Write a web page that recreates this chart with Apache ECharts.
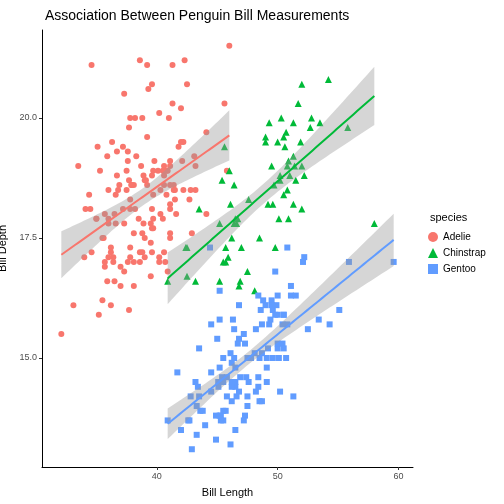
<!DOCTYPE html>
<html><head><meta charset="utf-8">
<script src="https://cdn.jsdelivr.net/npm/echarts@6/dist/echarts.min.js"></script>
<style>html,body{margin:0;padding:0;background:#fff}#c{width:504px;height:504px}</style>
</head><body><div id="c"></div>
<script>
var speciesNames = ['Adelie', 'Chinstrap', 'Gentoo'];
var speciesColors = ['#F8766D', '#00BA38', '#619CFF'];
var speciesSymbols = ['circle', 'triangle', 'rect'];
var xTicks = [40, 50, 60];
var yTicks = [15, 17.5, 20];

var adelie = [[39.1,18.7],[39.5,17.4],[40.3,18],[36.7,19.3],[39.3,20.6],[38.9,17.8],[39.2,19.6],[34.1,18.1],[42,20.2],[37.8,17.1],[37.8,17.3],[41.1,17.6],[38.6,21.2],[34.6,21.1],[36.6,17.8],[38.7,19],[42.5,20.7],[34.4,18.4],[46,21.5],[37.8,18.3],[37.7,18.7],[35.9,19.2],[38.2,18.1],[38.8,17.2],[35.3,18.9],[40.6,18.6],[40.5,17.9],[37.9,18.6],[40.5,18.9],[39.5,16.7],[37.2,18.1],[39.5,17.8],[40.9,18.9],[36.4,17],[39.2,21.1],[38.8,20],[42.2,18.5],[37.6,19.3],[39.8,19.1],[36.5,18],[40.8,18.4],[36,18.5],[44.1,19.7],[37,16.9],[39.6,18.8],[41.1,19],[37.5,18.9],[36,17.9],[42.3,21.2],[39.6,17.7],[40.1,18.9],[35,17.9],[42,19.5],[34.5,18.1],[41.4,18.6],[39,17.5],[40.6,18.8],[36.5,16.6],[37.6,19.1],[35.7,16.9],[41.3,21.1],[37.6,17],[41.1,18.2],[36.4,17.1],[41.6,18],[35.5,16.2],[41.1,19.1],[35.9,16.6],[41.8,19.4],[33.5,19],[39.7,18.4],[39.6,17.2],[45.8,18.9],[35.5,17.5],[42.8,18.5],[40.9,16.8],[37.2,19.4],[36.2,16.1],[42.1,19.1],[34.6,17.2],[42.9,17.6],[36.7,18.8],[35.1,19.4],[37.3,17.8],[41.3,20.3],[36.3,19.5],[36.9,18.6],[38.3,19.2],[38.9,18.8],[35.7,18],[41.1,18.1],[34,17.1],[39.6,18.1],[36.2,17.3],[40.8,18.9],[38.1,18.6],[40.3,18.5],[33.1,16.1],[43.2,18.5],[35,17.9],[41,20],[37.7,16],[37.8,20],[37.9,18.6],[39.7,18.9],[38.6,17.2],[38.2,20],[38.1,17],[43.2,19],[38.1,16.5],[45.6,20.3],[39.7,17.7],[42.2,19.5],[39.6,20.7],[42.7,18.3],[38.6,17],[37.3,20.5],[35.7,17],[41.1,18.6],[36.2,17.2],[37.7,19.8],[40.2,17],[41.4,18.5],[35.2,15.9],[40.6,19],[38.8,17.6],[41.5,18.3],[39,17.1],[44.1,18],[38.5,17.9],[43.1,19.2],[36.8,18.5],[37.5,18.5],[38.1,17.6],[41.1,17.5],[35.6,17.5],[40.2,20.1],[37,16.5],[39.7,17.9],[40.2,17.1],[40.6,17.2],[32.1,15.5],[40.7,17],[37.3,16.8],[39,18.7],[39.2,18.6],[36.6,18.4],[36,17.8],[37.8,18.1],[36,17.1],[41.5,18.5]];
var chinstrap = [[46.5,17.9],[50,19.5],[51.3,19.2],[45.4,18.7],[52.7,19.8],[45.2,17.8],[46.1,18.2],[51.3,18.2],[46,18.9],[51.3,19.9],[46.6,17.8],[51.7,20.3],[47,17.3],[52,18.1],[45.9,17.1],[50.5,19.6],[50.3,20],[58,17.8],[46.4,18.6],[49.2,18.2],[42.4,17.3],[48.5,17.5],[43.2,16.6],[50.6,19.4],[46.7,17.9],[52,19],[50.5,18.4],[49.5,19],[46.4,17.8],[52.8,20],[40.9,16.6],[54.2,20.8],[42.5,16.7],[51,18.8],[49.7,18.6],[47.5,16.8],[47.6,18.3],[52,20.7],[46.9,16.6],[53.5,19.9],[49,19.5],[46.2,17.5],[50.9,19.1],[45.5,17],[50.9,17.9],[50.8,18.5],[50.1,17.9],[49,19.6],[51.5,18.7],[49.8,17.3],[48.1,16.4],[51.4,19],[45.7,17.3],[50.7,19.7],[42.5,17.3],[52.2,18.8],[45.2,16.6],[49.3,19.9],[50.2,18.8],[45.6,19.4],[51.9,19.5],[46.8,16.5],[45.7,17],[55.8,19.8],[43.5,18.1],[49.6,18.2],[50.8,19],[50.2,18.7]];
var gentoo = [[46.1,13.2],[50,16.3],[48.7,14.1],[50,15.2],[47.6,14.5],[46.5,13.5],[45.4,14.6],[46.7,15.3],[43.3,13.4],[46.8,15.4],[40.9,13.7],[49,16.1],[45.5,13.7],[48.4,14.6],[45.8,14.6],[49.3,15.7],[42,13.5],[49.2,15.2],[46.2,14.5],[48.7,15.1],[50.2,14.3],[45.1,14.5],[46.5,14.5],[46.3,15.8],[42.9,13.1],[46.1,15.1],[44.5,14.3],[47.8,15],[48.2,14.3],[50,15.3],[47.3,15.3],[42.8,14.2],[45.1,14.5],[59.6,17],[49.1,14.8],[48.4,16.3],[42.6,13.7],[44.4,17.3],[44,13.6],[48.7,15.7],[42.7,13.7],[49.6,16],[45.3,13.7],[49.6,15],[50.5,15.9],[43.6,13.9],[45.5,13.9],[50.5,15.9],[44.9,13.3],[45.2,15.8],[46.6,14.2],[48.5,14.1],[45.1,14.4],[50.1,15],[46.5,14.4],[45,15.4],[43.8,13.9],[45.5,15],[43.2,14.5],[50.4,15.3],[45.3,13.8],[46.2,14.9],[45.7,13.9],[54.3,15.7],[45.8,14.2],[49.8,16.8],[46.2,14.4],[49.5,16.2],[43.5,14.2],[50.7,15],[47.7,15],[46.4,15.6],[48.2,15.6],[46.5,14.8],[46.4,15],[48.6,16],[47.5,14.2],[51.1,16.3],[45.2,13.8],[45.2,16.4],[49.1,14.5],[52.5,15.6],[47.4,14.6],[50,15.9],[44.9,13.8],[50.8,17.3],[43.4,14.4],[51.3,14.2],[47.5,14],[52.1,17],[47.5,15],[52.2,17.1],[45.5,14.5],[49.5,16.1],[44.5,14.7],[50.8,15.7],[49.4,15.8],[46.9,14.6],[48.4,14.4],[51.1,16.5],[48.5,15],[55.9,17],[47.2,15.5],[49.1,15],[47.3,13.8],[46.8,16.1],[41.7,14.7],[53.4,15.8],[43.3,14],[48.1,15.1],[50.5,15.2],[49.8,15.9],[43.5,15.2],[51.5,16.3],[46.2,14.1],[55.1,16],[44.5,15.7],[48.8,16.2],[47.2,13.7],[46.8,14.3],[50.4,15.7],[45.2,14.8],[49.9,16.1]];
var groups = [adelie, chinstrap, gentoo];

// linear fit with 95% band, like geom_smooth(method = "lm")
function fit(pts) {
  var n = pts.length, mx = 0, my = 0, sxx = 0, sxy = 0, sse = 0;
  pts.forEach(function (p) { mx += p[0] / n; my += p[1] / n; });
  pts.forEach(function (p) { sxx += (p[0] - mx) * (p[0] - mx); sxy += (p[0] - mx) * (p[1] - my); });
  var b = sxy / sxx, a = my - b * mx;
  pts.forEach(function (p) { var r = p[1] - a - b * p[0]; sse += r * r; });
  var s = Math.sqrt(sse / (n - 2)), t = 1.97;
  var xs = pts.map(function (p) { return p[0]; });
  var lo = Math.min.apply(null, xs), hi = Math.max.apply(null, xs);
  var line = [], band = [];
  for (var i = 0; i <= 60; i++) {
    var x = lo + (hi - lo) * i / 60, y = a + b * x;
    var se = s * Math.sqrt(1 / n + (x - mx) * (x - mx) / sxx);
    line.push([x, y]); band.push([x, y - t * se, y + t * se]);
  }
  return {line: line, band: band};
}

var series = [];
groups.forEach(function (pts, i) {
  series.push({name: speciesNames[i], type: 'scatter', data: pts, symbol: speciesSymbols[i],
    symbolSize: i === 1 ? 7 : 6, itemStyle: {color: speciesColors[i], opacity: 1}, z: 2});
});
groups.forEach(function (pts, i) {
  var f = fit(pts);
  var band = f.band;
  series.push({type: 'custom', data: [0], silent: true, z: 3,
    renderItem: function (params, api) {
      var up = band.map(function (d) { return api.coord([d[0], d[2]]); });
      var dn = band.slice().reverse().map(function (d) { return api.coord([d[0], d[1]]); });
      return {type: 'polygon', shape: {points: up.concat(dn)}, style: {fill: 'rgba(153,153,153,0.4)'}};
    }});
  series.push({type: 'line', data: f.line, symbol: 'none', lineStyle: {color: speciesColors[i], width: 2}, silent: true, z: 4});
});

var chart = echarts.init(document.getElementById('c'));
chart.setOption({
  animation: false,
  title: {text: 'Association Between Penguin Bill Measurements', left: 40, top: 4,
    textStyle: {fontFamily: 'Liberation Sans', fontSize: 14, fontWeight: 'normal', color: '#000'}},
  legend: {orient: 'vertical', left: 428, top: 212, itemGap: 6, itemWidth: 10, itemHeight: 10,
    data: speciesNames.map(function (n, i) { return {name: n, icon: speciesSymbols[i]}; }),
    textStyle: {fontFamily: 'Liberation Sans', fontSize: 10, color: '#000'},
    padding: [20, 0, 0, 0]},
  graphic: [{type: 'text', left: 430, top: 212, style: {text: 'species', font: '11px Liberation Sans', fill: '#000'}}],
  grid: {left: 42, right: 91, top: 30, bottom: 37, outerBoundsMode: 'none', containLabel: false},
  xAxis: {type: 'value', min: 30.5, max: 61.2, name: 'Bill Length', nameLocation: 'middle', nameGap: 20,
    nameTextStyle: {fontFamily: 'Liberation Sans', fontSize: 11, color: '#000'},
    splitLine: {show: false}, axisLine: {lineStyle: {color: '#000'}},
    axisTick: {customValues: xTicks, length: 3, lineStyle: {color: '#333'}},
    axisLabel: {customValues: xTicks, color: '#4d4d4d', fontSize: 9, fontFamily: 'Liberation Sans', margin: 5}},
  yAxis: {type: 'value', min: 12.73, max: 21.83, name: 'Bill Depth', nameLocation: 'middle', nameGap: 28,
    nameTextStyle: {fontFamily: 'Liberation Sans', fontSize: 11, color: '#000'},
    splitLine: {show: false}, axisLine: {show: true, lineStyle: {color: '#000'}},
    axisTick: {show: true, customValues: yTicks, length: 3, lineStyle: {color: '#333'}},
    axisLabel: {customValues: yTicks, color: '#4d4d4d', fontSize: 9, fontFamily: 'Liberation Sans', margin: 5,
      formatter: function (v) { return v.toFixed(1); }}},
  series: series
});
</script></body></html>
